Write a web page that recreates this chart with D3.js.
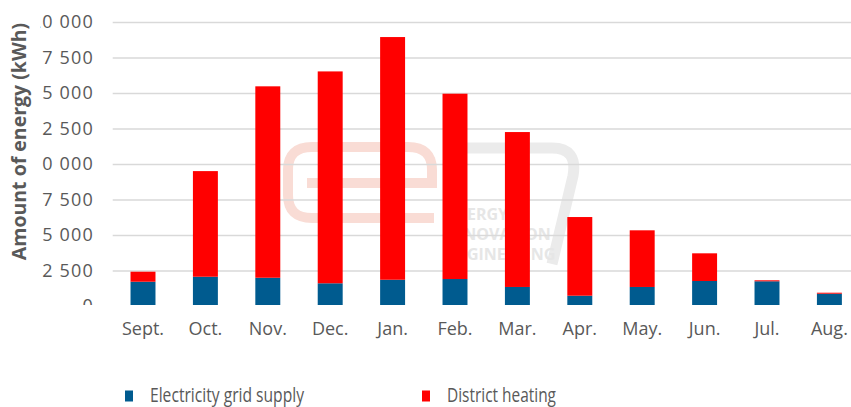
<!DOCTYPE html>
<html>
<head>
<meta charset="utf-8">
<script src="https://cdn.jsdelivr.net/npm/d3@7"></script>
<style>
  html, body { margin: 0; padding: 0; background: #fff; }
  svg { display: block; font-family: "Open Sans", sans-serif; }
</style>
</head>
<body>
<svg id="chart" width="851" height="407"></svg>
<script>
// Data (kWh)
const months = ["Sept.", "Oct.", "Nov.", "Dec.", "Jan.", "Feb.", "Mar.", "Apr.", "May.", "Jun.", "Jul.", "Aug."];
const gridSupply = [1710, 2060, 1990, 1600, 1850, 1900, 1340, 725, 1340, 1760, 1740, 866];
const districtHeating = [705, 7440, 13480, 14920, 17090, 13050, 10910, 5540, 3990, 1950, 70, 70];
const yTicks = [0, 2500, 5000, 7500, 10000, 12500, 15000, 17500, 20000];
const yTickLabels = ["0", "2 500", "5 000", "7 500", "10 000", "12 500", "15 000", "17 500", "20 000"];
const seriesNames = ["Electricity grid supply", "District heating"];
const seriesColors = ["#005B8F", "#FF0000"];

const svg = d3.select("#chart");
const W = 851, H = 407;
const textGrey = "#595959";

svg.append("rect").attr("width", W).attr("height", H).attr("fill", "#fff");

// the picture is cropped just under the baseline
svg.append("defs").append("clipPath").attr("id", "crop")
  .append("rect").attr("x", 0).attr("y", 0).attr("width", W).attr("height", 305);

const x = d3.scaleBand()
  .domain(months)
  .range([111.8, 860.6])
  .paddingInner(0.6)
  .paddingOuter(0.3);

const y = d3.scaleLinear()
  .domain([0, 20000])
  .range([306, 22]);

const plot = svg.append("g").attr("clip-path", "url(#crop)");

// faint watermark logo behind the grid
const wm = plot.append("g").attr("class", "watermark");
wm.append("path")
  .attr("d", "M307 183 H432 V170 Q432 147 408 147 H312 Q288 147 288 170 V195 Q288 218 312 218 H434")
  .attr("fill", "none").attr("stroke", "#f9dcd5").attr("stroke-width", 10);
wm.append("path")
  .attr("d", "M445 148 H552 Q578 148 573 176 L552 264")
  .attr("fill", "none").attr("stroke", "#ebebeb").attr("stroke-width", 11);
["ENERGY", "INNOVATION", "ENGINEERING"].forEach((t, i) => {
  wm.append("text")
    .attr("x", 445).attr("y", 220 + i * 20)
    .attr("font-size", 16).attr("font-weight", 700)
    .attr("fill", "#e6e6e6")
    .text(t);
});

// gridlines
plot.append("g")
  .attr("transform", "translate(112.7,0)")
  .call(d3.axisLeft(y).tickValues(yTicks).tickSize(-760).tickFormat(""))
  .call(g => {
    g.select(".domain").remove();
    g.selectAll("line").attr("stroke", "#d9d9d9").attr("stroke-width", 1.5);
  });

// y tick labels
plot.append("g")
  .selectAll("text")
  .data(yTicks)
  .join("text")
  .attr("x", 94)
  .attr("y", d => y(d))
  .attr("dy", "0.35em")
  .attr("text-anchor", "end")
  .attr("font-size", 18)
  .attr("letter-spacing", 1.2)
  .attr("fill", textGrey)
  .text((d, i) => yTickLabels[i]);

// stacked bars
const rows = months.map((m, i) => ({ month: m, grid: gridSupply[i], heat: districtHeating[i] }));
const stacked = d3.stack().keys(["grid", "heat"])(rows);

plot.append("g")
  .selectAll("g")
  .data(stacked)
  .join("g")
  .attr("fill", (d, i) => seriesColors[i])
  .selectAll("rect")
  .data(d => d)
  .join("rect")
  .attr("x", d => x(d.data.month))
  .attr("y", d => y(d[1]))
  .attr("width", x.bandwidth())
  .attr("height", d => y(d[0]) - y(d[1]));

// x axis labels
svg.append("g")
  .attr("transform", "translate(0,335)")
  .call(d3.axisBottom(x).tickSize(0))
  .call(g => {
    g.select(".domain").remove();
    g.selectAll("text")
      .attr("y", 0).attr("dy", 0)
      .attr("font-family", "Open Sans")
      .attr("font-size", 18)
      .attr("fill", textGrey);
  });

// the title box covers the leading digits of the tick labels
svg.append("rect").attr("x", 0).attr("y", 0).attr("width", 40).attr("height", 310).attr("fill", "#fff");

svg.append("text")
  .attr("transform", "translate(26,141.5) rotate(-90)")
  .attr("text-anchor", "middle")
  .attr("font-size", 19.5)
  .attr("font-weight", 700)
  .attr("fill", textGrey)
  .text("Amount of energy (kWh)");

// legend
const legendX = [125, 422];
const legendLen = [154, 109];
const legend = svg.append("g")
  .selectAll("g")
  .data(seriesNames)
  .join("g")
  .attr("transform", (d, i) => `translate(${legendX[i]},0)`);

legend.append("rect")
  .attr("x", 0).attr("y", 390.5)
  .attr("width", 8).attr("height", 11)
  .attr("fill", (d, i) => seriesColors[i]);

legend.append("text")
  .attr("x", 25).attr("y", 401.5)
  .attr("font-size", 20)
  .attr("fill", textGrey)
  .attr("textLength", (d, i) => legendLen[i])
  .attr("lengthAdjust", "spacingAndGlyphs")
  .text(d => d);
</script>
</body>
</html>
